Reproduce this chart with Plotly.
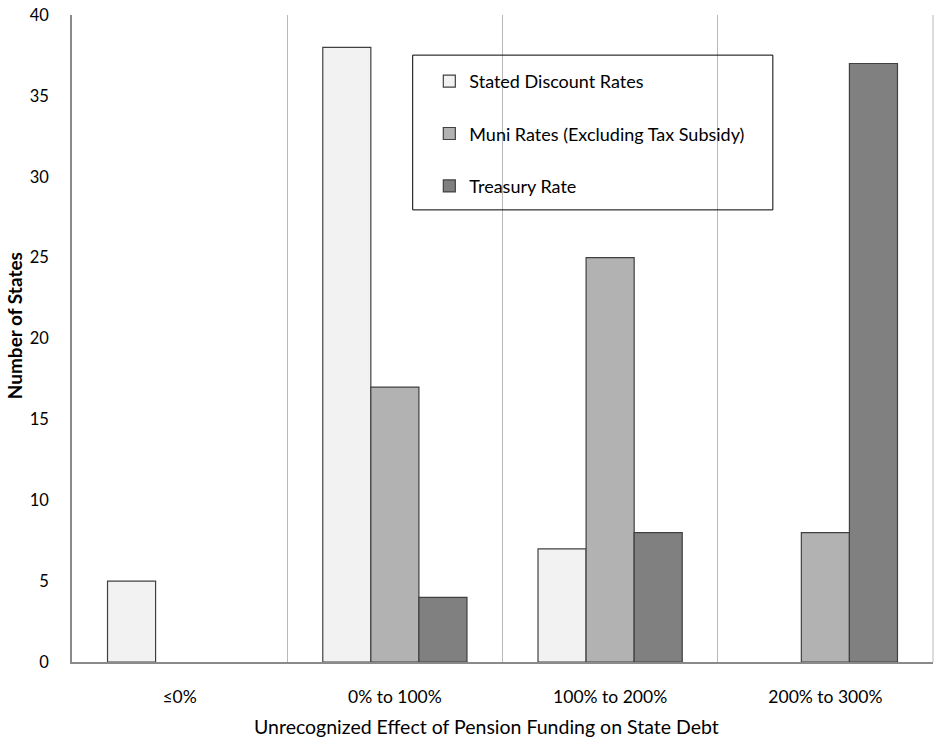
import plotly.graph_objects as go

categories = ["≤0%", "0% to 100%", "100% to 200%", "200% to 300%"]
series_names = ["Stated Discount Rates", "Muni Rates (Excluding Tax Subsidy)", "Treasury Rate"]
stated = [5, 38, 7, 0]
muni = [0, 17, 25, 8]
treasury = [0, 4, 8, 37]
colors = ["#f2f2f2", "#b2b2b2", "#808080"]
y_ticks = [0, 5, 10, 15, 20, 25, 30, 35, 40]
x_title = "Unrecognized Effect of Pension Funding on State Debt"
y_title = "Number of States"

FONT = "Lato"
OUTLINE = "#404040"

fig = go.Figure()
for i, (name, vals) in enumerate(zip(series_names, [stated, muni, treasury])):
    # data bars (zero-height bars drawn without outline, as in the reference)
    fig.add_trace(go.Bar(
        x=categories, y=vals, name=name, legendgroup=f"g{i}", offsetgroup=f"g{i}",
        showlegend=False,
        marker=dict(color=colors[i],
                    line=dict(color=OUTLINE, width=[1.2 if v > 0 else 0 for v in vals])),
    ))
for i, name in enumerate(series_names):
    # legend swatch entries (share the slot of their data trace)
    fig.add_trace(go.Bar(
        x=[None], y=[None], name=name, legendgroup=f"g{i}", offsetgroup=f"g{i}",
        showlegend=True,
        marker=dict(color=colors[i], line=dict(color=OUTLINE, width=1.2)),
    ))

fig.update_layout(
    width=936, height=740,
    paper_bgcolor="white", plot_bgcolor="white",
    margin=dict(l=72, r=3, t=15, b=78),
    barmode="group", bargap=0.33, bargroupgap=0,
    font=dict(family=FONT, size=16, color="black"),
    showlegend=True,
    legend=dict(
        x=0.415, y=0.926, xanchor="left", yanchor="top",
        bgcolor="rgba(0,0,0,0)", borderwidth=0,
        font=dict(family=FONT, size=18, color="black"),
        tracegroupgap=26, itemwidth=30,
    ),
    xaxis=dict(
        automargin=False,
        showline=True, linecolor="#8a8a8a", linewidth=1.5,
        showgrid=True, gridcolor="#b8b8b8", gridwidth=1,
        tickson="boundaries", ticks="", mirror=False,
        ticklabelstandoff=18,
        tickfont=dict(family=FONT, size=17.5),
    ),
    yaxis=dict(
        automargin=False,
        range=[0, 40], tickvals=y_ticks,
        showline=True, linecolor="#8a8a8a", linewidth=1.5,
        showgrid=False, zeroline=False, ticks="",
        ticklabelstandoff=18,
        tickfont=dict(family=FONT, size=16.5),
    ),
    annotations=[
        dict(text=x_title, xref="paper", yref="paper", x=0.4817, y=-0.0996,
             xanchor="center", yanchor="middle", showarrow=False,
             font=dict(family=FONT, size=19.5, color="black")),
        dict(text=f"<b>{y_title}</b>", xref="paper", yref="paper", x=-0.0668, y=0.5197,
             xanchor="center", yanchor="middle", showarrow=False, textangle=-90,
             font=dict(family=FONT, size=19, color="black")),
    ],
    shapes=[
        dict(type="rect", xref="paper", yref="paper",
             x0=0.3957, x1=0.814, y0=0.6988, y1=0.938,
             line=dict(color="black", width=1), fillcolor="rgba(0,0,0,0)", layer="above"),
        dict(type="line", xref="paper", yref="paper", x0=1, x1=1, y0=0, y1=1,
             line=dict(color="#b8b8b8", width=1)),
    ],
)

fig.write_html("out.html", config={"displayModeBar": False},
               post_script="document.body.style.margin='0px';")
